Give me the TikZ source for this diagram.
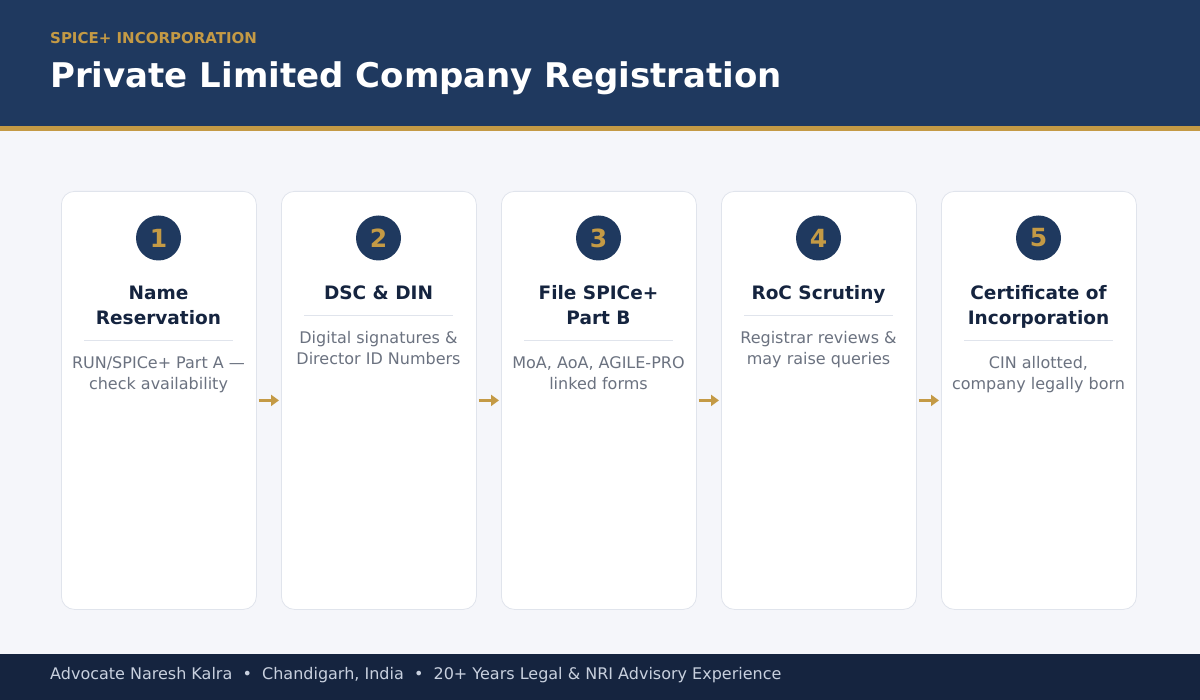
\documentclass[tikz,border=0pt]{standalone}
\usepackage{fontspec}
\setmainfont{DejaVu Sans}
\usetikzlibrary{arrows.meta}
\definecolor{navy}{RGB}{31,57,95}
\definecolor{navydark}{RGB}{21,36,63}
\definecolor{gold}{RGB}{196,154,69}
\definecolor{bodybg}{RGB}{245,246,250}
\definecolor{cardline}{RGB}{224,228,236}
\definecolor{desc}{RGB}{107,114,128}
\definecolor{foottext}{RGB}{200,208,222}
\begin{document}
\begin{tikzpicture}[x=1pt,y=-1pt,
  card/.style={draw=cardline,line width=0.8pt,fill=white,rounded corners=13pt,minimum width=195pt,minimum height=418pt,inner sep=0pt,anchor=north west},
  numdisc/.style={circle,fill=navy,minimum size=45pt,inner sep=0pt,text=gold,font=\fontsize{25}{25}\selectfont\bfseries},
  steptitle/.style={anchor=base,align=center,inner sep=0pt,text=navydark,font=\fontsize{18.5}{25}\selectfont\bfseries},
  stepdesc/.style={anchor=base,align=center,inner sep=0pt,text=desc,font=\fontsize{16}{21}\selectfont},
  divider/.style={draw=cardline,line width=0.8pt},
  flow/.style={draw=gold,line width=2.5pt,-{Triangle[length=8pt,width=11pt]},shorten <=2pt,shorten >=2pt}
]
\useasboundingbox (0,0) rectangle (1200,700);
\fill[bodybg] (0,0) rectangle (1200,700);
\fill[navy] (0,0) rectangle (1200,126);
\fill[gold] (0,126) rectangle (1200,131);
\fill[navydark] (0,654) rectangle (1200,700);
\node[anchor=base west,inner sep=0pt,text=gold,font=\fontsize{15}{15}\selectfont\bfseries] (sub) at (50,44) {SPICE+ INCORPORATION};
\node[anchor=base west,inner sep=0pt,text=white,font=\fontsize{34}{34}\selectfont\bfseries] (title) at (50,88) {Private Limited Company Registration};
\node[anchor=base west,inner sep=0pt,text=foottext,font=\fontsize{16}{16}\selectfont] (foot) at (50,679) {Advocate Naresh Kalra\ \ •\ \ Chandigarh, India\ \ •\ \ 20+ Years Legal \& NRI Advisory Experience};

% cards
\foreach \i/\x in {1/61,2/281,3/501,4/721,5/941}{
  \node[card] (c\i) at (\x,191) {};
  \node[numdisc] (n\i) at (\x+97.5,238) {\i};
}
% base anchor of a multi-line node = baseline of its last line
\node[steptitle] (t1) at (158.5,325) {Name\\Reservation};
\draw[divider] (84,340) -- (233,340);
\node[stepdesc] (d1) at (158.5,390) {RUN/SPICe+ Part A —\\check availability};

\node[steptitle] (t2) at (378.5,300) {DSC \& DIN};
\draw[divider] (304,315) -- (453,315);
\node[stepdesc] (d2) at (378.5,365) {Digital signatures \&\\Director ID Numbers};

\node[steptitle] (t3) at (598.5,325) {File SPICe+\\Part B};
\draw[divider] (524,340) -- (673,340);
\node[stepdesc] (d3) at (598.5,390) {MoA, AoA, AGILE-PRO\\linked forms};

\node[steptitle] (t4) at (818.5,300) {RoC Scrutiny};
\draw[divider] (744,315) -- (893,315);
\node[stepdesc] (d4) at (818.5,365) {Registrar reviews \&\\may raise queries};

\node[steptitle] (t5) at (1038.5,325) {Certificate of\\Incorporation};
\draw[divider] (964,340) -- (1113,340);
\node[stepdesc] (d5) at (1038.5,390) {CIN allotted,\\company legally born};

\foreach \a/\b in {1/2,2/3,3/4,4/5}{
  \draw[flow] (c\a.east) -- (c\b.west);
}
\end{tikzpicture}
\end{document}
